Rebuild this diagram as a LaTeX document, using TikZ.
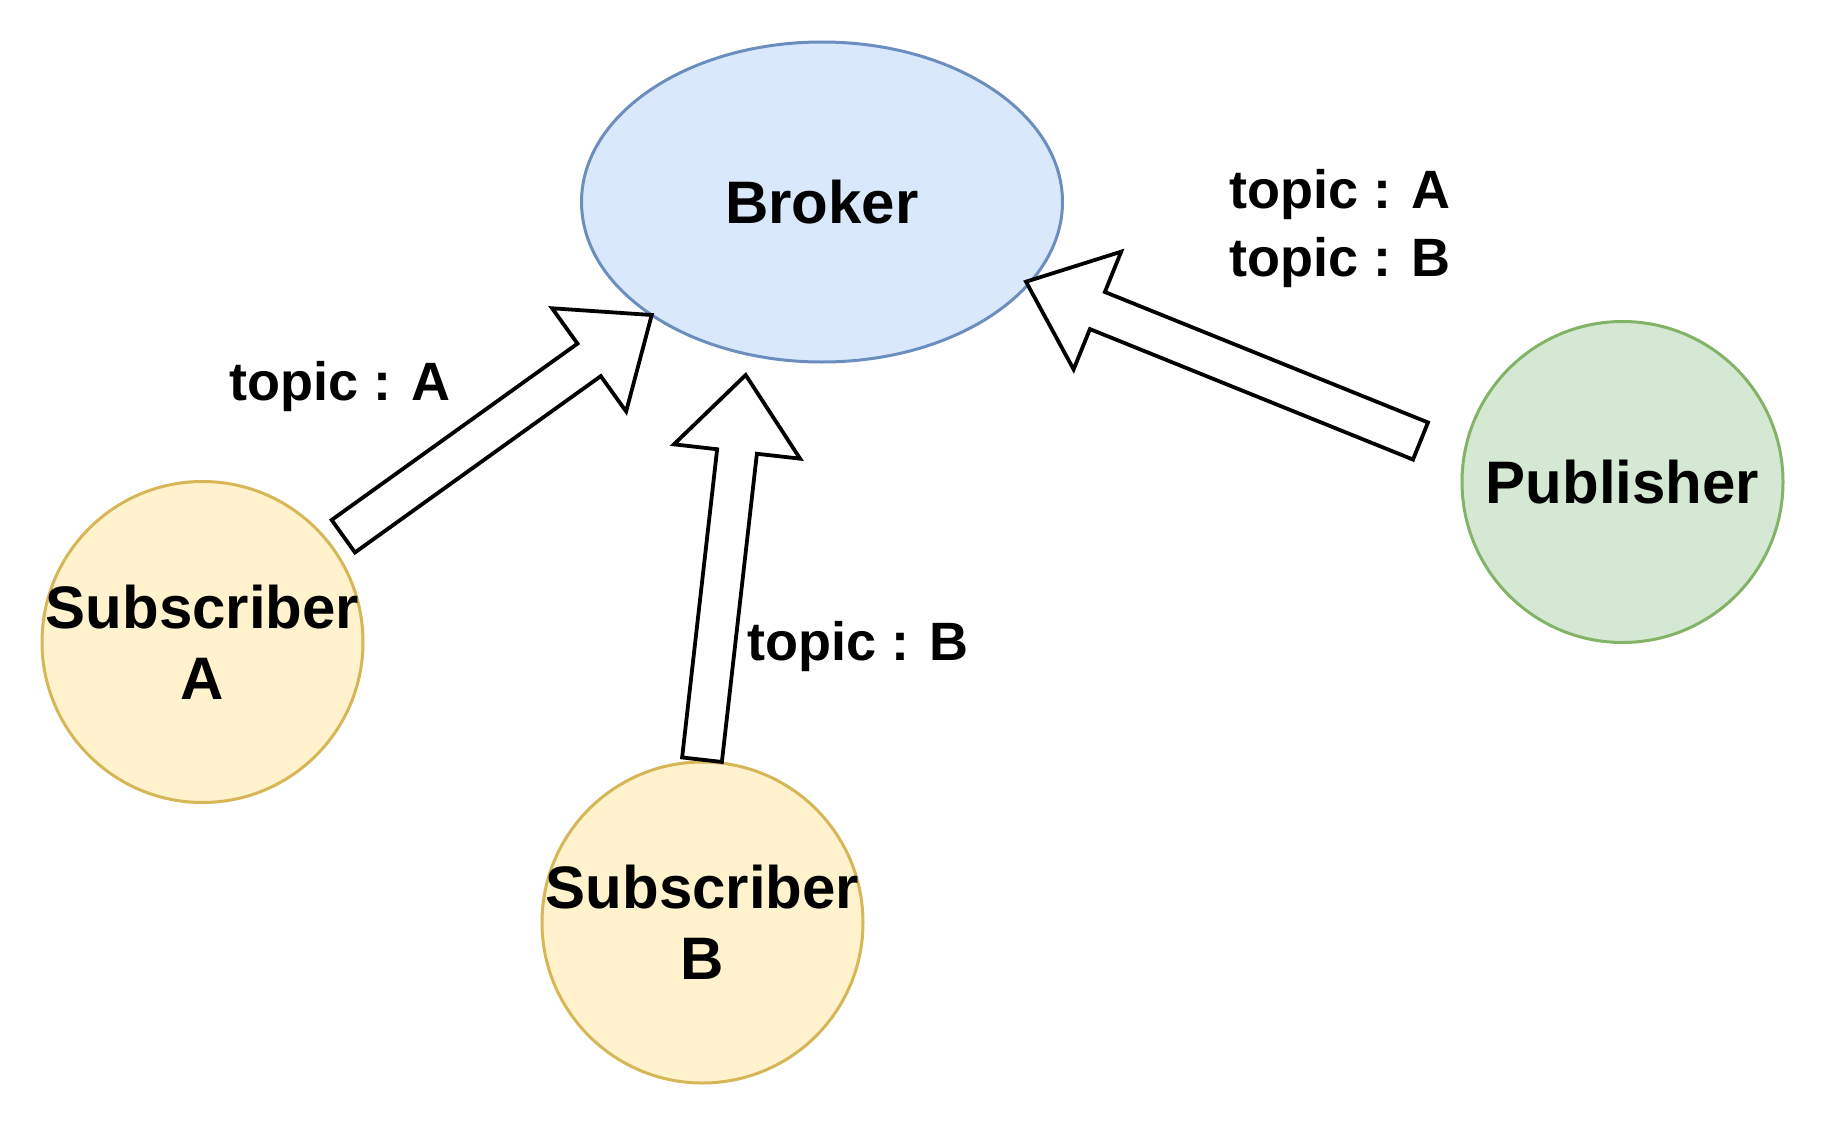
\documentclass[tikz,border=0pt]{standalone}
\usepackage{fontspec}
\setmainfont{Liberation Sans}
\usetikzlibrary{calc,shapes.geometric}
\definecolor{brokerfill}{HTML}{DAE8FC}
\definecolor{brokerline}{HTML}{6C8EBF}
\definecolor{subfill}{HTML}{FFF2CC}
\definecolor{subline}{HTML}{D6B656}
\definecolor{pubfill}{HTML}{D5E8D4}
\definecolor{publine}{HTML}{82B366}
\tikzset{
  shapebase/.style={inner sep=0pt, line width=3pt},
  brokerbox/.style={shapebase, ellipse, minimum width=481pt, minimum height=320pt, fill=brokerfill, draw=brokerline},
  subbox/.style={shapebase, circle, minimum size=321pt, fill=subfill, draw=subline},
  pubbox/.style={shapebase, circle, minimum size=321pt, fill=pubfill, draw=publine},
  nodetext/.style={inner sep=0pt, align=center, font=\fontsize{60}{71}\selectfont\bfseries},
  labeltext/.style={inner sep=0pt, align=center, anchor=base, font=\fontsize{54}{68}\selectfont\bfseries},
  blockarrow/.style={draw=black, fill=white, line width=3.8pt, line join=miter}
}
\newcommand\blockarr[2]{%
  \path ($(#2)!77pt!(#1)$) coordinate (bb);
  \draw[blockarrow] ($(#1)!20pt!90:(#2)$) -- ($(bb)!20pt!90:(#2)$) -- ($(bb)!63.5pt!90:(#2)$) -- (#2)
    -- ($(bb)!63.5pt!-90:(#2)$) -- ($(bb)!20pt!-90:(#2)$) -- ($(#1)!20pt!-90:(#2)$) -- cycle;
}
\begin{document}
\begin{tikzpicture}[x=1pt,y=-1pt]
\useasboundingbox (0,0) rectangle (1824,1124);

% shapes
\node[brokerbox] (broker) at (822,202) {};
\node[subbox] (subA) at (202.5,642) {};
\node[subbox] (subB) at (702.5,922.5) {};
\node[pubbox] (pub) at (1622.5,482) {};

% texts
\node[nodetext] (brokerT) at (broker.center) {Broker};
\node[nodetext] (subAT) at (subA.center) {Subscriber\\A};
\node[nodetext] (subBT) at (subB.center) {Subscriber\\B};
\node[nodetext] (pubT) at (pub.center) {Publisher};

% arrow ends
\coordinate (aTail) at (343.3,536.2);
\coordinate (aTip) at (651.7,315);
\coordinate (bTail) at (702,759.7);
\coordinate (bTip) at (745.7,375);
\coordinate (pTail) at (1420.5,441);
\coordinate (pTip) at (1026,281.7);

\blockarr{aTail}{aTip}
\blockarr{bTail}{bTip}
\blockarr{pTail}{pTip}

% labels
\node[labeltext] (labA) at (340,400) {topic : A};
\node[labeltext] (labB) at (858,660) {topic : B};
\node[labeltext] (labP1) at (1340,208) {topic : A};
\node[labeltext] (labP2) at (1340,276) {topic : B};
\end{tikzpicture}
\end{document}
